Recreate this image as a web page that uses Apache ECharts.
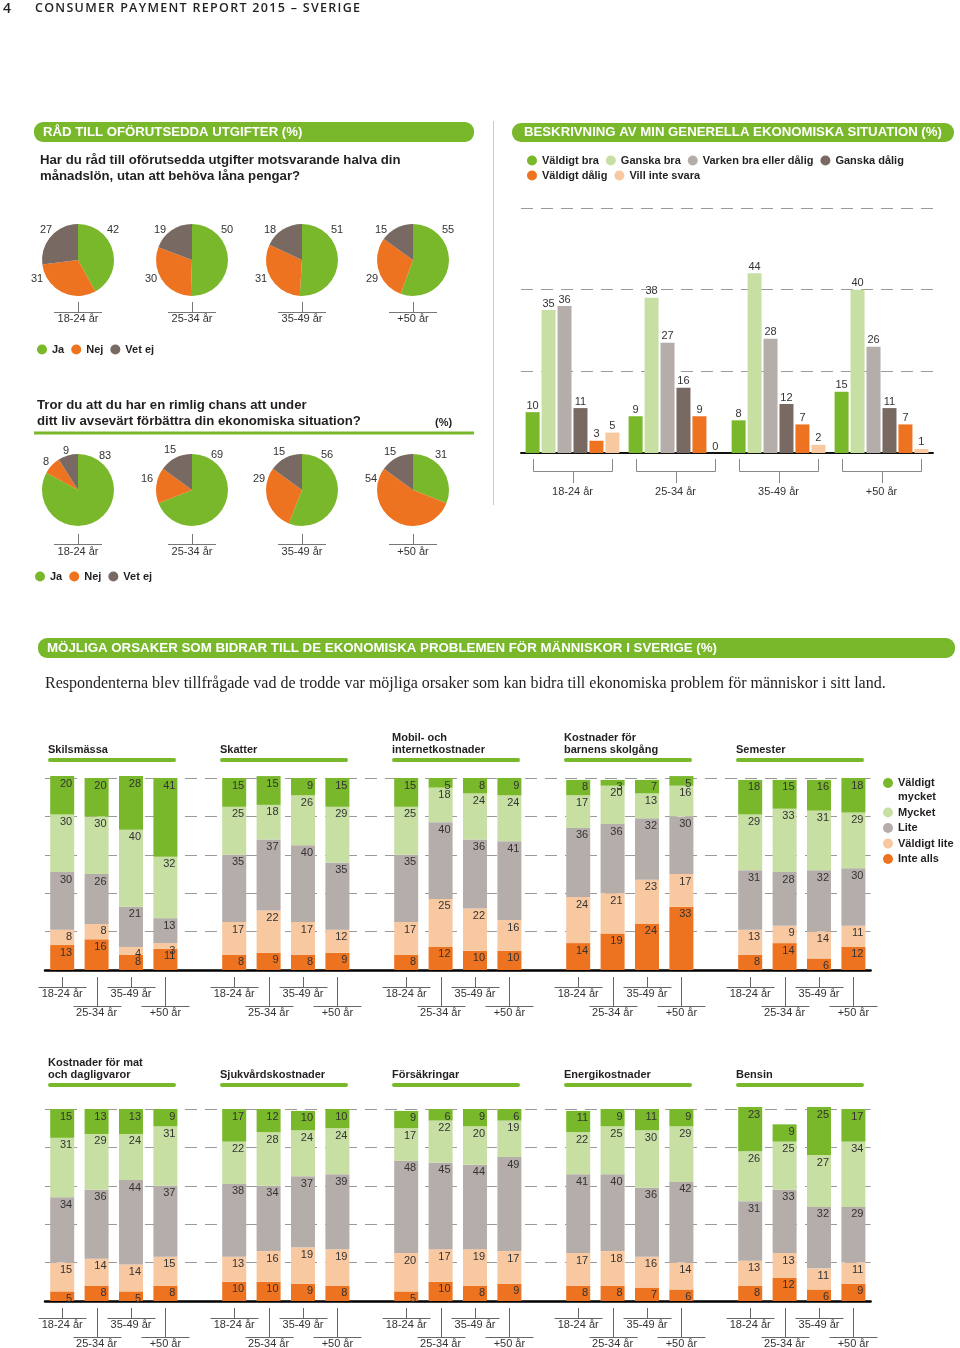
<!DOCTYPE html>
<html><head><meta charset="utf-8">
<script src="https://cdn.jsdelivr.net/npm/echarts@6/dist/echarts.min.js"></script>
<style>
html,body{margin:0;padding:0;background:#fff;}
#chart{position:absolute;left:0;top:0;width:960px;height:1348px;}
#pg{position:absolute;left:3px;top:-2px;font:600 14px 'Open Sans',sans-serif;color:#231f20;z-index:2;}
#rt{position:absolute;left:35px;top:-1px;font:600 12.5px 'Open Sans',sans-serif;letter-spacing:1.3px;color:#231f20;z-index:2;}
</style></head><body>
<div id="chart"></div>
<div id="pg">4</div>
<div id="rt">CONSUMER PAYMENT REPORT 2015 – SVERIGE</div>
<script>
// ---------------- DATA ----------------
const ageGroups = ['18-24 år', '25-34 år', '35-49 år', '+50 år'];
const yesNo = ['Ja', 'Nej', 'Vet ej'];
// Har du råd till oförutsedda utgifter ...
const affordJa = [42, 50, 51, 55];
const affordNej = [31, 30, 31, 29];
const affordVetEj = [27, 19, 18, 15];
// Tror du att du har en rimlig chans ...
const improveJa = [83, 69, 56, 31];
const improveNej = [8, 16, 29, 54];
const improveVetEj = [9, 15, 15, 15];
// Beskrivning av min generella ekonomiska situation
const situationLevels = ['Väldigt bra', 'Ganska bra', 'Varken bra eller dålig', 'Ganska dålig', 'Väldigt dålig', 'Vill inte svara'];
const sitVeryGood = [10, 9, 8, 15];
const sitFairlyGood = [35, 38, 44, 40];
const sitNeither = [36, 27, 28, 26];
const sitFairlyBad = [11, 16, 12, 11];
const sitVeryBad = [3, 9, 7, 7];
const sitNoAnswer = [5, 0, 2, 1];
// Möjliga orsaker: rows = causeLevels, columns = ageGroups
const causeLevels = ['Väldigt mycket', 'Mycket', 'Lite', 'Väldigt lite', 'Inte alls'];
const causeTitles = ['Skilsmässa', 'Skatter', 'Mobil- och\ninternetkostnader', 'Kostnader för\nbarnens skolgång', 'Semester',
  'Kostnader för mat\noch dagligvaror', 'Sjukvårdskostnader', 'Försäkringar', 'Energikostnader', 'Bensin'];
const skilsmassa = [[20, 20, 28, 41], [30, 30, 40, 32], [30, 26, 21, 13], [8, 8, 4, 3], [13, 16, 8, 11]];
const skatter = [[15, 15, 9, 15], [25, 18, 26, 29], [35, 37, 40, 35], [17, 22, 17, 12], [8, 9, 8, 9]];
const mobil = [[15, 5, 8, 9], [25, 18, 24, 24], [35, 40, 36, 41], [17, 25, 22, 16], [8, 12, 10, 10]];
const skolgang = [[8, 3, 7, 5], [17, 20, 13, 16], [36, 36, 32, 30], [24, 21, 23, 17], [14, 19, 24, 33]];
const semester = [[18, 15, 16, 18], [29, 33, 31, 29], [31, 28, 32, 30], [13, 9, 14, 11], [8, 14, 6, 12]];
const mat = [[15, 13, 13, 9], [31, 29, 24, 31], [34, 36, 44, 37], [15, 14, 14, 15], [5, 8, 5, 8]];
const sjukvard = [[17, 12, 10, 10], [22, 28, 24, 24], [38, 34, 37, 39], [13, 16, 19, 19], [10, 10, 9, 8]];
const forsakringar = [[9, 6, 9, 6], [17, 22, 20, 19], [48, 45, 44, 49], [20, 17, 19, 17], [5, 10, 8, 9]];
const energi = [[11, 9, 11, 9], [22, 25, 30, 29], [41, 40, 36, 42], [17, 18, 16, 14], [8, 8, 7, 6]];
const bensin = [[23, 9, 25, 17], [26, 25, 27, 34], [31, 33, 32, 29], [13, 13, 11, 11], [8, 12, 6, 9]];

// ---------------- STYLE ----------------
const FF = "'Liberation Sans', Arial, Helvetica, sans-serif";
const GREEN = '#78b82a', LGREEN = '#c7dfa3', GRAY = '#b5adaa', DGRAY = '#786963', ORANGE = '#ed7320', PEACH = '#f8c8a1';
const TXT = '#231f20';
const pieColors = [GREEN, ORANGE, DGRAY];
const sitColors = [GREEN, LGREEN, GRAY, DGRAY, ORANGE, PEACH];
const causeColors = [GREEN, LGREEN, GRAY, PEACH, ORANGE];
const pieX = [78, 192, 302, 413];
const pieY1 = 260, pieY2 = 490, pieR = 36;
const offs1 = [[35, -30], [-41, 19], [-32, -30]];
const offs2 = [
  [[27, -34], [-32, -28], [-12, -39]],
  [[25, -35], [-45, -11], [-22, -40]],
  [[25, -35], [-43, -11], [-23, -38]],
  [[28, -35], [-42, -11], [-23, -38]]
];

const chart = echarts.init(document.getElementById('chart'), null, {renderer: 'canvas'});

function pieSeries(cx, cy, values, offsets) {
  return {
    type: 'pie', center: [cx, cy], radius: pieR, startAngle: 90, clockwise: true,
    avoidLabelOverlap: false, silent: true,
    itemStyle: {borderWidth: 0},
    data: yesNo.map((n, i) => ({name: n, value: values[i], itemStyle: {color: pieColors[i]}})),
    label: {show: true, position: 'outside', formatter: '{c}', fontSize: 11, color: '#333', fontFamily: FF},
    labelLine: {show: false},
    labelLayout: p => {
      const o = offsets[p.dataIndex];
      return {x: cx + o[0], y: cy + o[1], align: 'center', verticalAlign: 'middle'};
    }
  };
}

const series = [];
ageGroups.forEach((a, i) => {
  series.push(pieSeries(pieX[i], pieY1, [affordJa[i], affordNej[i], affordVetEj[i]], offs1));
  series.push(pieSeries(pieX[i], pieY2, [improveJa[i], improveNej[i], improveVetEj[i]], offs2[i]));
});

const sitData = [sitVeryGood, sitFairlyGood, sitNeither, sitFairlyBad, sitVeryBad, sitNoAnswer];
sitData.forEach((d, i) => {
  series.push({
    type: 'bar', name: situationLevels[i], xAxisIndex: 0, yAxisIndex: 0, data: d,
    barWidth: 14, barGap: '14%', itemStyle: {color: sitColors[i]},
    label: {show: true, position: 'top', distance: 1, fontSize: 11, color: '#333', fontFamily: FF}
  });
});

const rows = [[skilsmassa, skatter, mobil, skolgang, semester], [mat, sjukvard, forsakringar, energi, bensin]];
const rowCats = rows.map((panels, r) => {
  const c = [];
  panels.forEach((p, pi) => {
    ageGroups.forEach(a => c.push(causeTitles[r * 5 + pi].replace('\n', ' ') + ' ' + a));
    if (pi < panels.length - 1) c.push('gap' + pi);
  });
  return c;
});
function rowData(panels, level) {
  const out = [];
  panels.forEach((p, pi) => {
    p[level].forEach(v => out.push(v));
    if (pi < panels.length - 1) out.push('-');
  });
  return out;
}
rows.forEach((panels, r) => {
  for (let l = causeLevels.length - 1; l >= 0; l--) {
    series.push({
      type: 'bar', name: causeLevels[l], xAxisIndex: r + 1, yAxisIndex: r + 1, stack: 'row' + r,
      data: rowData(panels, l), barWidth: 24, clip: false,
      itemStyle: {color: causeColors[l]},
      label: {show: true, position: 'insideTopRight', distance: 2, fontSize: 11, color: '#333', fontFamily: FF}
    });
  }
});

const dashed = {show: true, lineStyle: {color: '#9a9a9a', type: [12, 8], width: 1}};
const legendText = {fontSize: 11, fontWeight: 'bold', color: TXT, fontFamily: FF};
const baseLegend = {itemWidth: 10, itemHeight: 10, icon: 'circle', padding: 0, textStyle: legendText, selectedMode: false};

const option = {
  animation: false,
  backgroundColor: '#fff',
  grid: [
    {left: 521, width: 412, top: 208, bottom: 1348 - 453, containLabel: false, outerBoundsMode: 'none'},
    {left: 45, width: 825.6, top: 778, bottom: 1348 - 970, containLabel: false, outerBoundsMode: 'none'},
    {left: 45, width: 825.6, top: 1109, bottom: 1348 - 1301, containLabel: false, outerBoundsMode: 'none'}
  ],
  xAxis: [
    {gridIndex: 0, type: 'category', data: ageGroups,
      axisLine: {lineStyle: {color: '#111', width: 2}}, axisTick: {show: false},
      axisLabel: {margin: 33, fontSize: 11, color: '#333', fontFamily: FF}},
    ...rowCats.map((cats, r) => ({
      gridIndex: r + 1, type: 'category', data: cats,
      axisLine: {lineStyle: {color: '#000', width: 2.5}}, axisTick: {show: false},
      axisLabel: {interval: 0, margin: 14, lineHeight: 19, fontSize: 11, color: '#333', fontFamily: FF,
        formatter: (v, idx) => { const s = idx % 5; if (s === 4) return ''; return (s % 2 ? '\n' : '') + ageGroups[s]; }}
    }))
  ],
  yAxis: [
    {gridIndex: 0, type: 'value', min: 0, max: 60, interval: 20, axisLabel: {show: false}, axisLine: {show: false}, axisTick: {show: false}, splitLine: dashed},
    {gridIndex: 1, type: 'value', min: 0, max: 100, interval: 20, axisLabel: {show: false}, axisLine: {show: false}, axisTick: {show: false}, splitLine: dashed},
    {gridIndex: 2, type: 'value', min: 0, max: 100, interval: 20, axisLabel: {show: false}, axisLine: {show: false}, axisTick: {show: false}, splitLine: dashed}
  ],
  legend: [
    Object.assign({}, baseLegend, {left: 37, top: 344, itemGap: 7, data: yesNo}),
    Object.assign({}, baseLegend, {left: 35, top: 571, itemGap: 7, data: yesNo}),
    Object.assign({}, baseLegend, {left: 527, top: 155, itemGap: 7, data: situationLevels.slice(0, 4)}),
    Object.assign({}, baseLegend, {left: 527, top: 170, itemGap: 7, data: situationLevels.slice(4)}),
    Object.assign({}, baseLegend, {left: 883, top: 762, orient: 'vertical', itemGap: 1.5,
      textStyle: Object.assign({}, legendText, {lineHeight: 14}),
      formatter: n => n === 'Väldigt mycket' ? '\nVäldigt\nmycket' : n,
      data: causeLevels})
  ],
  series: series
};
chart.setOption(option);

// ---------------- GRAPHICS (headers, titles, brackets) ----------------
function text(x, y, s, o) {
  o = o || {};
  return {type: 'text', x: x, y: y, silent: true, z: 10,
    style: {text: s, fill: o.fill || TXT, fontSize: o.size || 11, fontWeight: o.weight || 'normal',
      fontFamily: o.family || FF, align: o.align || 'left', verticalAlign: o.va || 'middle', lineHeight: o.lh}};
}
function line(x1, y1, x2, y2, o) {
  o = o || {};
  return {type: 'line', silent: true, z: 10, shape: {x1: x1, y1: y1, x2: x2, y2: y2},
    style: {stroke: o.stroke || '#666', lineWidth: o.w || 1, lineCap: o.cap || 'butt'}};
}
function rect(x, y, w, h, r, fill) {
  return {type: 'rect', silent: true, z: 9, shape: {x: x, y: y, width: w, height: h, r: r}, style: {fill: fill}};
}
const g = [];
// section 1
g.push(rect(34, 122, 440, 20, 9, GREEN));
g.push(text(43, 132.5, 'RÅD TILL OFÖRUTSEDDA UTGIFTER (%)', {fill: '#fff', weight: 'bold', size: 13.2}));
g.push(text(40, 152.5, 'Har du råd till oförutsedda utgifter motsvarande halva din\nmånadslön, utan att behöva låna pengar?', {weight: 'bold', size: 13.2, va: 'top', lh: 16}));
// section 2
g.push(rect(512, 123, 442, 19, 9, GREEN));
g.push(text(524, 132.5, 'BESKRIVNING AV MIN GENERELLA EKONOMISKA SITUATION (%)', {fill: '#fff', weight: 'bold', size: 13.2}));
g.push(line(493.5, 121, 493.5, 505, {stroke: '#c8c8c8'}));
// section 3 question
g.push(text(37, 397.5, 'Tror du att du har en rimlig chans att under\nditt liv avsevärt förbättra din ekonomiska situation?', {weight: 'bold', size: 13.2, va: 'top', lh: 16}));
g.push(text(435, 423, '(%)', {weight: 'bold', size: 11}));
g.push(line(34, 433, 474, 433, {stroke: GREEN, w: 3}));
// pie axes
[[pieY1, 312, 318], [pieY2, 544, 551]].forEach(([cy, ly, ty]) => {
  pieX.forEach((cx, i) => {
    g.push(line(cx - 24, ly + 0.5, cx + 24, ly + 0.5, {stroke: '#777'}));
    g.push(line(cx + 0.5, ly - 10, cx + 0.5, ly, {stroke: '#777'}));
    g.push(text(cx, ty + 1, ageGroups[i], {align: 'center', fill: '#333'}));
  });
});
// section 4
g.push(rect(38, 638, 917, 20, 9, GREEN));
g.push(text(47, 648.5, 'MÖJLIGA ORSAKER SOM BIDRAR TILL DE EKONOMISKA PROBLEMEN FÖR MÄNNISKOR I SVERIGE (%)', {fill: '#fff', weight: 'bold', size: 13.3}));
g.push(text(45, 684, 'Respondenterna blev tillfrågade vad de trodde var möjliga orsaker som kan bidra till ekonomiska problem för människor i sitt land.', {size: 16, family: "'Liberation Serif', 'DejaVu Serif', serif"}));
// panel titles
causeTitles.forEach((t, k) => {
  const r = Math.floor(k / 5), p = k % 5;
  const x = 48 + 172 * p;
  const bottom = r === 0 ? 756.5 : 1081.5;
  const uy = r === 0 ? 760 : 1085;
  g.push(text(x, bottom, t, {weight: 'bold', size: 11, va: 'bottom', lh: 12.5}));
  g.push(line(x + 2, uy, x + 126, uy, {stroke: GREEN, w: 4, cap: 'round'}));
});
// situation brackets (positions from the axis scale)
ageGroups.forEach((a, i) => {
  const pt = chart.convertToPixel({xAxisIndex: 0, yAxisIndex: 0}, [a, 0]);
  const cx = Math.round(pt[0]) + 0.5, by = pt[1];
  g.push(line(cx - 40, by + 6, cx - 40, by + 18.5, {stroke: '#888'}));
  g.push(line(cx + 39, by + 6, cx + 39, by + 18.5, {stroke: '#888'}));
  g.push(line(cx - 40, by + 18.5, cx + 39, by + 18.5, {stroke: '#888'}));
  g.push(line(cx, by + 18.5, cx, by + 30, {stroke: '#888'}));
});
// stacked-bar category ticks
rowCats.forEach((cats, r) => {
  cats.forEach((c, k) => {
    const s = k % 5;
    if (s === 4) return;
    const pt = chart.convertToPixel({xAxisIndex: r + 1, yAxisIndex: r + 1}, [c, 0]);
    const cx = Math.round(pt[0]) + 0.5, by = pt[1];
    const ey = Math.round(by + (s % 2 ? 36 : 17)) + 0.5;
    g.push(line(cx, by + 7, cx, ey, {stroke: '#666'}));
    g.push(line(cx - 24, ey, cx + 24, ey, {stroke: '#666'}));
  });
});
chart.setOption({graphic: g});
</script>
</body></html>
